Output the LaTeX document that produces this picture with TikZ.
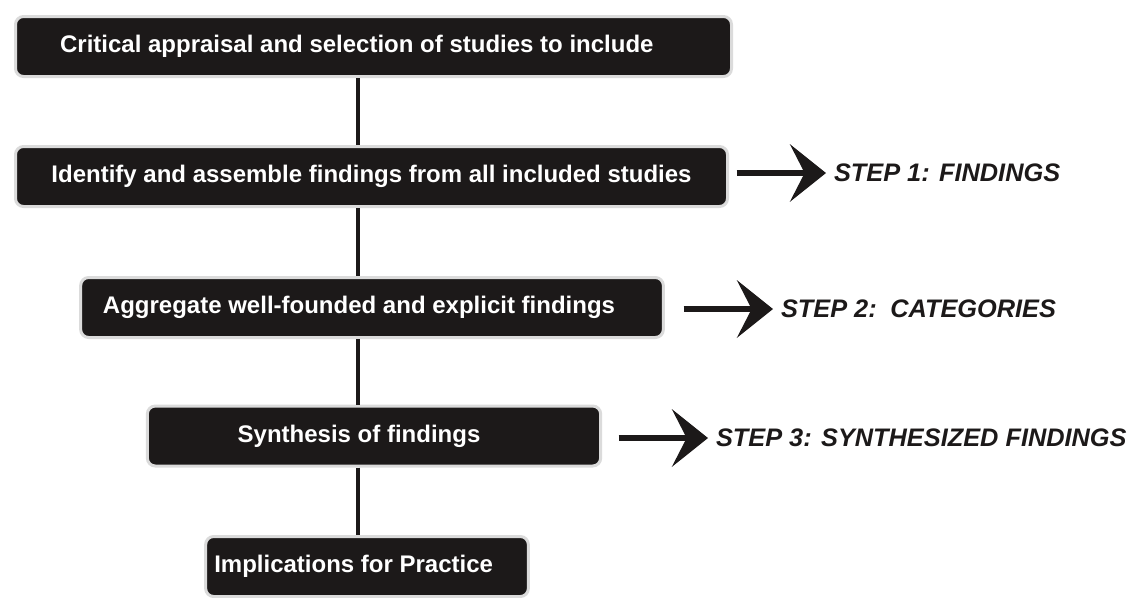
\documentclass[tikz,border=0pt]{standalone}
\usepackage{fontspec}
\setmainfont{Liberation Sans}
\usetikzlibrary{arrows.meta}
\definecolor{boxfill}{rgb}{0.11, 0.10, 0.10}
\definecolor{rim}{rgb}{0.86, 0.86, 0.86}

\begin{document}
\begin{tikzpicture}[x=0.75pt, y=-0.75pt,
  stage/.style={draw=rim, line width=2.25pt, fill=boxfill, rounded corners=6pt,
    text=white, font=\fontsize{18}{21}\selectfont\bfseries, minimum height=45pt},
  steptext/.style={anchor=west, inner xsep=6pt, outer sep=0pt, text=boxfill,
    font=\fontsize{19}{22}\selectfont\bfseries\itshape},
  link/.style={line width=3pt, boxfill},
  pointer/.style={line width=4.5pt, boxfill, -{Stealth[length=27pt, width=43pt, inset=11pt]}}]
\useasboundingbox (0, 0) rectangle (1137, 597);
\coordinate (spine) at (358, 0);
% the five stages
\node [stage, minimum width=537pt] (appraise) at (373.5, 46.5) {Critical appraisal and selection of studies to include\hspace*{25pt}};
\node [stage, minimum width=534pt] (identify) at (371.5, 176.5) {Identify and assemble findings from all included studies};
\node [stage, minimum width=437pt] (aggregate) at (372, 307.5) {Aggregate well-founded and explicit findings\hspace*{19.5pt}};
\node [stage, minimum width=340pt] (synthesis) at (374, 436) {Synthesis of findings\hspace*{22.5pt}};
\node [stage, minimum width=242pt] (practice) at (367, 566.5) {Implications for Practice\hspace*{20pt}};
\draw [link] (appraise.south -| spine) -- (identify.north -| spine);
\draw [link] (identify.south -| spine) -- (aggregate.north -| spine);
\draw [link] (aggregate.south -| spine) -- (synthesis.north -| spine);
\draw [link] (synthesis.south -| spine) -- (practice.north -| spine);
% steps
\node [steptext] (step1) at (826, 173) {STEP 1: FINDINGS};
\node [steptext] (step2) at (773, 309) {STEP 2: \,CATEGORIES};
\node [steptext] (step3) at (708, 438) {STEP 3: SYNTHESIZED FINDINGS};
\draw [pointer] ([xshift=-67pt]step1.west) -- (step1.west);
\draw [pointer] ([xshift=-67pt]step2.west) -- (step2.west);
\draw [pointer] ([xshift=-67pt]step3.west) -- (step3.west);
\end{tikzpicture}
\end{document}
